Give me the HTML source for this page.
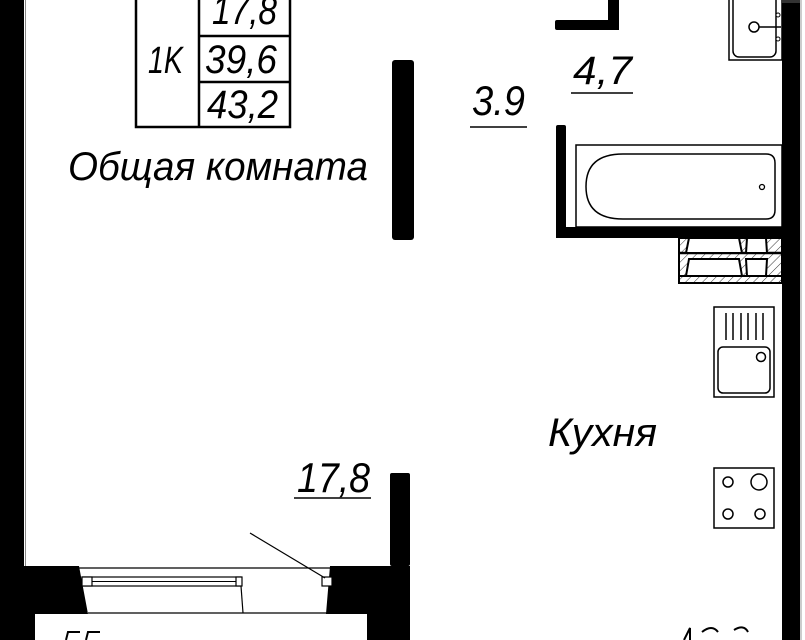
<!DOCTYPE html>
<html><head><meta charset="utf-8"><style>
html,body{margin:0;padding:0;background:#fff;width:805px;height:640px;overflow:hidden;}
svg{display:block;overflow:hidden;}
text{font-family:"Liberation Sans",sans-serif;font-style:italic;fill:#000;}
</style></head><body>
<svg width="805" height="640" viewBox="0 0 805 640" xmlns="http://www.w3.org/2000/svg">
<defs>
<pattern id="h" width="6" height="6" patternUnits="userSpaceOnUse" patternTransform="rotate(45)">
<line x1="0" y1="0" x2="0" y2="6" stroke="#000" stroke-width="0.8"/></pattern>
</defs>
<rect x="0" y="0" width="24" height="566" fill="#000"/>
<line x1="25.5" y1="0" x2="25.5" y2="566" stroke="#888" stroke-width="1"/>
<rect x="782" y="0" width="18" height="640" fill="#000"/>
<line x1="801" y1="0" x2="801" y2="640" stroke="#999" stroke-width="1"/>
<rect x="392" y="60" width="22" height="180" rx="3" fill="#000"/>
<rect x="390" y="473" width="20" height="93" rx="2" fill="#000"/>
<path d="M0 566 H79 L88 614 H35 V640 H0 Z" fill="#000"/>
<path d="M330 566 H410 V640 H367 V614 H326 Z" fill="#000"/>
<line x1="79" y1="568" x2="335" y2="568" stroke="#000" stroke-width="1.2"/>
<rect x="82" y="577" width="159" height="9" fill="#fff" stroke="#000" stroke-width="1.2"/>
<line x1="92" y1="581.5" x2="236" y2="581.5" stroke="#000" stroke-width="1"/>
<rect x="82" y="577" width="10" height="9" fill="#fff" stroke="#000" stroke-width="1.2"/>
<rect x="236" y="577" width="6" height="9" fill="#fff" stroke="#000" stroke-width="1.2"/>
<rect x="322" y="577" width="10" height="9" fill="#fff" stroke="#000" stroke-width="1.2"/>
<line x1="88" y1="613" x2="330" y2="613" stroke="#000" stroke-width="1.2"/>
<line x1="241" y1="586" x2="243" y2="613" stroke="#000" stroke-width="1.2"/>
<line x1="250" y1="533" x2="325" y2="578" stroke="#000" stroke-width="1.2"/>
<rect x="136" y="-5" width="154" height="132" fill="none" stroke="#000" stroke-width="2.5"/>
<line x1="199" y1="-5" x2="199" y2="127" stroke="#000" stroke-width="2.5"/>
<line x1="199" y1="36" x2="290" y2="36" stroke="#000" stroke-width="2.5"/>
<line x1="199" y1="82" x2="290" y2="82" stroke="#000" stroke-width="2.5"/>
<text x="148" y="73" font-size="38" textLength="35" lengthAdjust="spacingAndGlyphs">1K</text>
<text x="212" y="24" font-size="40" textLength="65" lengthAdjust="spacingAndGlyphs">17,8</text>
<text x="205" y="73" font-size="40" textLength="72" lengthAdjust="spacingAndGlyphs">39,6</text>
<text x="207" y="118" font-size="40" textLength="71" lengthAdjust="spacingAndGlyphs">43,2</text>
<text x="68" y="180" font-size="40" textLength="300" lengthAdjust="spacingAndGlyphs">Общая комната</text>
<text x="472" y="115" font-size="42" textLength="53" lengthAdjust="spacingAndGlyphs">3.9</text>
<text x="573" y="84" font-size="40" textLength="59" lengthAdjust="spacingAndGlyphs">4,7</text>
<text x="548" y="446" font-size="40" textLength="109" lengthAdjust="spacingAndGlyphs">Кухня</text>
<text x="297" y="492" font-size="42" textLength="73" lengthAdjust="spacingAndGlyphs">17,8</text>
<line x1="470" y1="127" x2="527" y2="127" stroke="#000" stroke-width="1.5"/>
<line x1="571" y1="93" x2="633" y2="93" stroke="#000" stroke-width="1.5"/>
<line x1="294" y1="498" x2="371" y2="498" stroke="#000" stroke-width="1.5"/>
<rect x="35" y="614" width="332" height="26" fill="#fff"/>
<!-- partially visible bottom labels (tops only) -->
<path d="M66 640 L68 632 H80 M86 640 L88 632 H100" fill="none" stroke="#000" stroke-width="2"/>
<path d="M684 640 L690 628 L690 640 M702 632 Q712 624 718 632 M734 630 Q744 624 748 632" fill="none" stroke="#000" stroke-width="2"/>
<rect x="555" y="20" width="64" height="10" rx="2" fill="#000"/>
<rect x="608" y="0" width="11" height="30" fill="#000"/>
<rect x="729" y="-2" width="53" height="62" fill="#fff" stroke="#000" stroke-width="1.5"/>
<rect x="733" y="-6" width="43" height="63" rx="6" fill="none" stroke="#000" stroke-width="1.5"/>
<circle cx="754" cy="27" r="5" fill="none" stroke="#000" stroke-width="1.5"/>
<line x1="759" y1="27" x2="781" y2="27" stroke="#000" stroke-width="1.5"/>
<circle cx="778" cy="15" r="2" fill="#fff" stroke="#000"/>
<circle cx="778" cy="39" r="2" fill="#fff" stroke="#000"/>
<rect x="782" y="0" width="18" height="3" fill="#333"/>
<rect x="556" y="125" width="10" height="113" rx="2" fill="#000"/>
<rect x="556" y="227" width="230" height="11" fill="#000"/>
<rect x="576" y="145" width="206" height="82" fill="#fff" stroke="#000" stroke-width="1.5"/>
<path d="M623 154 H766 Q775 154 775 163 V210 Q775 219 766 219 H623 Q586 219 586 186.5 Q586 154 623 154 Z" fill="none" stroke="#000" stroke-width="1.5"/>
<circle cx="762" cy="187" r="2.5" fill="none" stroke="#000" stroke-width="1.3"/>
<rect x="679" y="238" width="103" height="45" fill="url(#h)" stroke="#000" stroke-width="2"/>
<line x1="679" y1="253" x2="782" y2="253" stroke="#000" stroke-width="2.5"/>
<line x1="679" y1="276" x2="782" y2="276" stroke="#000" stroke-width="2"/>
<path d="M689 238 L686 253 H742 L739 238 Z" fill="#fff" stroke="#000" stroke-width="2"/>
<path d="M689 259 L686 276 H742 L739 259 Z" fill="#fff" stroke="#000" stroke-width="2"/>
<path d="M747 238 L746 253 H767 L766 238 Z" fill="#fff" stroke="#000" stroke-width="2"/>
<path d="M746 259 L747 276 H766 L767 259 Z" fill="#fff" stroke="#000" stroke-width="2"/>
<rect x="714" y="307" width="60" height="90" fill="#fff" stroke="#000" stroke-width="1.5"/>
<g stroke="#000" stroke-width="1.5">
<line x1="726" y1="313" x2="726" y2="340"/><line x1="733" y1="313" x2="733" y2="340"/>
<line x1="741" y1="313" x2="741" y2="340"/><line x1="748" y1="313" x2="748" y2="340"/>
<line x1="756" y1="313" x2="756" y2="340"/><line x1="763" y1="313" x2="763" y2="340"/>
</g>
<rect x="718" y="347" width="52" height="46" rx="5" fill="none" stroke="#000" stroke-width="1.5"/>
<circle cx="761" cy="357" r="4.5" fill="none" stroke="#000" stroke-width="1.5"/>
<rect x="714" y="468" width="60" height="60" fill="#fff" stroke="#000" stroke-width="1.5"/>
<g fill="none" stroke="#000" stroke-width="1.5">
<circle cx="728" cy="482" r="5"/><circle cx="759" cy="482" r="8"/>
<circle cx="728" cy="514" r="5"/><circle cx="760" cy="514" r="5"/>
</g>
</svg>
</body></html>
